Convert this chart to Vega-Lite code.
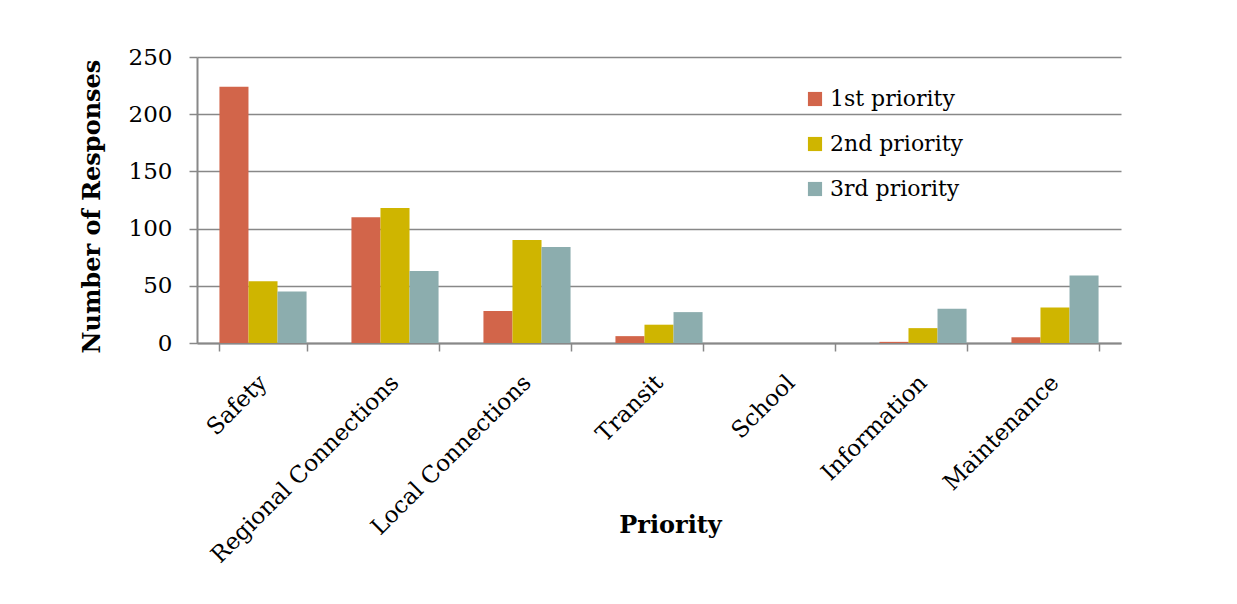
{
  "$schema": "https://vega.github.io/schema/vega-lite/v6.json",
  "width": 924,
  "height": 286,
  "autosize": {"type": "none"},
  "padding": {"left": 197, "top": 57, "right": 116, "bottom": 261},
  "background": "white",
  "data": {"values": [
    {"category": "Safety", "priority": "1st priority", "count": 224},
    {"category": "Safety", "priority": "2nd priority", "count": 54},
    {"category": "Safety", "priority": "3rd priority", "count": 45},
    {"category": "Regional Connections", "priority": "1st priority", "count": 110},
    {"category": "Regional Connections", "priority": "2nd priority", "count": 118},
    {"category": "Regional Connections", "priority": "3rd priority", "count": 63},
    {"category": "Local Connections", "priority": "1st priority", "count": 28},
    {"category": "Local Connections", "priority": "2nd priority", "count": 90},
    {"category": "Local Connections", "priority": "3rd priority", "count": 84},
    {"category": "Transit", "priority": "1st priority", "count": 6},
    {"category": "Transit", "priority": "2nd priority", "count": 16},
    {"category": "Transit", "priority": "3rd priority", "count": 27},
    {"category": "School", "priority": "1st priority", "count": 0},
    {"category": "School", "priority": "2nd priority", "count": 0},
    {"category": "School", "priority": "3rd priority", "count": 0},
    {"category": "Information", "priority": "1st priority", "count": 1},
    {"category": "Information", "priority": "2nd priority", "count": 13},
    {"category": "Information", "priority": "3rd priority", "count": 30},
    {"category": "Maintenance", "priority": "1st priority", "count": 5},
    {"category": "Maintenance", "priority": "2nd priority", "count": 31},
    {"category": "Maintenance", "priority": "3rd priority", "count": 59}
  ]},
  "mark": {"type": "bar"},
  "encoding": {
    "x": {
      "field": "category", "type": "nominal", "sort": null,
      "scale": {"paddingInner": 0.34, "paddingOuter": 0.17},
      "axis": {
        "title": "Priority",
        "titleFont": "DejaVu Serif", "titleFontSize": 24, "titleFontWeight": "bold", "titleColor": "black",
        "titleX": 473, "titleY": 182, "titleBaseline": "middle", "titleAnchor": "middle",
        "labelAngle": -45, "labelFont": "DejaVu Serif", "labelFontSize": 23, "labelColor": "black",
        "labelLimit": 0, "labelPadding": 20, "labelOffset": -8,
        "tickBand": "extent", "ticks": true, "tickSize": 8, "tickColor": "#888888", "tickWidth": 1.5,
        "domainColor": "#888888", "domainWidth": 2, "grid": false
      }
    },
    "xOffset": {"field": "priority", "type": "nominal", "scale": {"paddingInner": 0, "paddingOuter": 0}},
    "y": {
      "field": "count", "type": "quantitative",
      "scale": {"domain": [0, 250], "nice": false},
      "axis": {
        "title": "Number of Responses",
        "titleFont": "DejaVu Serif", "titleFontSize": 24, "titleFontWeight": "bold", "titleColor": "black",
        "titleX": -105, "titleY": 149, "titleAngle": -90, "titleBaseline": "middle", "titleAnchor": "middle",
        "values": [0, 50, 100, 150, 200, 250],
        "labelFont": "DejaVu Serif", "labelFontSize": 23, "labelColor": "black", "labelPadding": 17,
        "tickSize": 8, "tickColor": "#888888", "tickWidth": 1.5,
        "domainColor": "#888888", "domainWidth": 2,
        "grid": true, "gridColor": "#888888", "gridWidth": 1.5
      }
    },
    "color": {
      "field": "priority", "type": "nominal",
      "scale": {"domain": ["1st priority", "2nd priority", "3rd priority"], "range": ["#D2654A", "#CFB500", "#8CADAE"]},
      "legend": {
        "title": null, "orient": "none", "legendX": 607, "legendY": 31,
        "symbolType": "square", "symbolSize": 200, "symbolStrokeWidth": 0,
        "labelFont": "DejaVu Serif", "labelFontSize": 22, "labelColor": "black",
        "rowPadding": 23, "labelOffset": 4
      }
    }
  },
  "config": {"view": {"stroke": null}}
}
